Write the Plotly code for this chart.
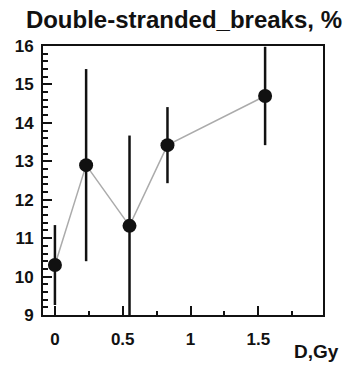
import plotly.graph_objects as go

# Dose (Gy), yield of double-stranded breaks (%) and its uncertainty
dose = [0.0, 0.23, 0.55, 0.83, 1.55]
dsb_percent = [10.30, 12.90, 11.32, 13.42, 14.70]
dsb_error = [1.04, 2.50, 2.35, 0.99, 1.28]

x_ticks = [0, 0.5, 1, 1.5]
x_tick_text = ["0", "0.5", "1", "1.5"]
y_ticks = [9, 10, 11, 12, 13, 14, 15, 16]

title_text = "Double-stranded_breaks, %"
x_title = "D,Gy"

FONT = "Liberation Sans, Arial, sans-serif"
INK = "#111111"

fig = go.Figure()

# grey connecting line underneath
fig.add_trace(go.Scatter(
    x=dose, y=dsb_percent, mode="lines",
    line=dict(color="#ababab", width=1.5),
    hoverinfo="skip", showlegend=False,
))

# points with vertical error bars
fig.add_trace(go.Scatter(
    x=dose, y=dsb_percent, mode="markers",
    marker=dict(color=INK, size=14, line=dict(width=0)),
    error_y=dict(type="data", array=dsb_error, visible=True,
                 color=INK, thickness=2.5, width=0),
    showlegend=False,
))

axis_common = dict(
    showline=True, linecolor=INK, linewidth=2, mirror=True,
    showgrid=False, zeroline=False,
    ticks="inside", tickcolor=INK, tickwidth=2,
    tickfont=dict(family=FONT, size=17, color=INK, weight="bold"),
)

fig.update_xaxes(
    range=[-0.088, 1.977],
    tickvals=x_ticks, ticktext=x_tick_text,
    ticklen=9,
    minor=dict(ticks="inside", tickvals=[0.25, 0.75, 1.25, 1.75],
               ticklen=4, tickwidth=2, tickcolor=INK, showgrid=False),
    ticklabelstandoff=8,
    **axis_common,
)
fig.update_yaxes(
    range=[9, 16],
    tickvals=y_ticks,
    ticklen=9,
    minor=dict(ticks="inside", dtick=0.2, ticklen=5, tickwidth=1.5,
               tickcolor=INK, showgrid=False),
    ticklabelstandoff=4,
    **axis_common,
)

fig.update_layout(
    width=349, height=366,
    margin=dict(l=43, r=26, t=46, b=51),
    paper_bgcolor="white", plot_bgcolor="white",
    title=dict(text=title_text, x=0.527, xanchor="center",
               y=1 - 20 / 366, yanchor="middle", yref="container",
               font=dict(family=FONT, size=24, color=INK, weight="bold")),
    annotations=[dict(
        text=x_title, xref="paper", yref="paper",
        x=1.065, y=-0.1375, xanchor="right", yanchor="middle",
        showarrow=False,
        font=dict(family=FONT, size=19, color=INK, weight="bold"),
    )],
)

fig.write_html("out.html")
